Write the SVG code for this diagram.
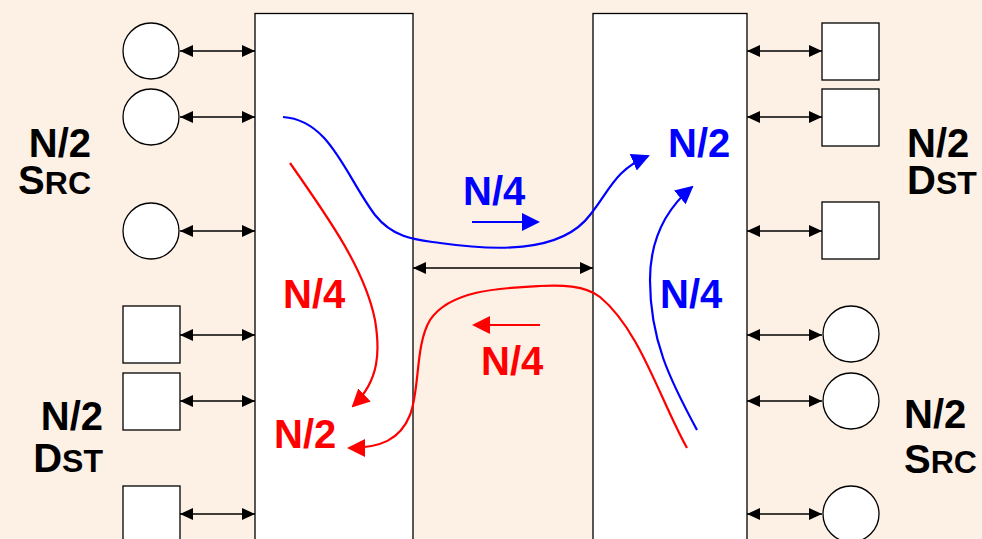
<svg xmlns="http://www.w3.org/2000/svg" width="982" height="539" viewBox="0 0 982 539">
<defs>
<style>
.sw{fill:#fff;stroke:#000;stroke-width:1.3}
.lk{stroke:#000;stroke-width:1.3;fill:none;marker-start:url(#ak);marker-end:url(#ak)}
.t{font-family:"Liberation Sans",Arial,sans-serif;font-weight:bold;font-size:40px}
.sc{font-size:32px}
.blue{fill:#0000ff}
.red{fill:#ff0000}
.bl{stroke:#0000ff;stroke-width:2.2;fill:none;marker-end:url(#ab)}
.rl{stroke:#ff0000;stroke-width:2.2;fill:none;marker-end:url(#ar)}
</style>
<marker id="ak" markerUnits="userSpaceOnUse" viewBox="0 0 13 12" refX="13" refY="6" markerWidth="13" markerHeight="12" orient="auto-start-reverse"><path d="M0,0 L13,6 L0,12 Z" fill="#000"/></marker>
<marker id="ab" markerUnits="userSpaceOnUse" viewBox="0 0 18 18" refX="16" refY="9" markerWidth="18" markerHeight="18" orient="auto"><path d="M0,0 L18,9 L0,18 Z" fill="#0000ff"/></marker>
<marker id="ar" markerUnits="userSpaceOnUse" viewBox="0 0 18 18" refX="16" refY="9" markerWidth="18" markerHeight="18" orient="auto"><path d="M0,0 L18,9 L0,18 Z" fill="#ff0000"/></marker>
</defs>
<rect x="0" y="0" width="982" height="539" fill="#fdf0e4"/>

<g id="switch-left"><rect class="sw" x="255" y="13.5" width="158" height="540"/></g>
<g id="switch-right"><rect class="sw" x="593" y="13.5" width="154" height="540"/></g>

<g id="left-src-1"><circle class="sw" cx="151" cy="51" r="28"/></g>
<g id="left-src-2"><circle class="sw" cx="151" cy="117" r="28"/></g>
<g id="left-src-3"><circle class="sw" cx="151" cy="231" r="28"/></g>
<g id="left-dst-1"><rect class="sw" x="123" y="306" width="57" height="57"/></g>
<g id="left-dst-2"><rect class="sw" x="123" y="373" width="57" height="57"/></g>
<g id="left-dst-3"><rect class="sw" x="123" y="486" width="57" height="57"/></g>

<g id="right-dst-1"><rect class="sw" x="822" y="23" width="57" height="57"/></g>
<g id="right-dst-2"><rect class="sw" x="822" y="89" width="57" height="57"/></g>
<g id="right-dst-3"><rect class="sw" x="822" y="202" width="57" height="57"/></g>
<g id="right-src-1"><circle class="sw" cx="851" cy="334" r="28"/></g>
<g id="right-src-2"><circle class="sw" cx="851" cy="401" r="28"/></g>
<g id="right-src-3"><circle class="sw" cx="851" cy="514" r="28"/></g>

<g id="connectors">
<line class="lk" x1="180" y1="51" x2="255" y2="51"/>
<line class="lk" x1="180" y1="117" x2="255" y2="117"/>
<line class="lk" x1="180" y1="231" x2="255" y2="231"/>
<line class="lk" x1="180" y1="335" x2="255" y2="335"/>
<line class="lk" x1="180" y1="401" x2="255" y2="401"/>
<line class="lk" x1="180" y1="514" x2="255" y2="514"/>
<line class="lk" x1="747" y1="51" x2="822" y2="51"/>
<line class="lk" x1="747" y1="117" x2="822" y2="117"/>
<line class="lk" x1="747" y1="231" x2="822" y2="231"/>
<line class="lk" x1="747" y1="335" x2="822" y2="335"/>
<line class="lk" x1="747" y1="401" x2="822" y2="401"/>
<line class="lk" x1="747" y1="514" x2="822" y2="514"/>
<line class="lk" x1="413" y1="268" x2="593" y2="268"/>

<path class="bl" d="M283,117 C330,120 345,175 375,215 C395,240 420,240 440,243 C490,250 560,255 590,215 C610,190 615,170 648,156"/>
<path class="bl" d="M697,430 C670,380 650,340 650,280 C650,240 665,210 692,187"/>
<path class="bl" d="M472,222 L538,222"/>
<path class="rl" d="M290,163 C330,220 365,270 375,320 C380,350 380,380 353,406"/>
<path class="rl" d="M687,448 C660,400 640,330 600,297 C585,285 560,285 540,286 C500,288 450,290 430,320 C415,345 420,390 410,415 C400,440 380,448 349,448"/>
<path class="rl" d="M540,325 L474,325"/>
</g>

<g id="labels">
<text class="t" x="91" y="157" text-anchor="end">N/2</text>
<text class="t" x="91" y="194" text-anchor="end">S<tspan class="sc">RC</tspan></text>
<text class="t" x="103" y="430" text-anchor="end">N/2</text>
<text class="t" x="103" y="472" text-anchor="end">D<tspan class="sc">ST</tspan></text>
<text class="t" x="907" y="157">N/2</text>
<text class="t" x="907" y="194">D<tspan class="sc">ST</tspan></text>
<text class="t" x="904" y="428">N/2</text>
<text class="t" x="904" y="473">S<tspan class="sc">RC</tspan></text>
<text class="t blue" x="668" y="157">N/2</text>
<text class="t blue" x="463" y="205">N/4</text>
<text class="t blue" x="660" y="308">N/4</text>
<text class="t red" x="283" y="308">N/4</text>
<text class="t red" x="274" y="448">N/2</text>
<text class="t red" x="481" y="375">N/4</text>
</g>
</svg>
